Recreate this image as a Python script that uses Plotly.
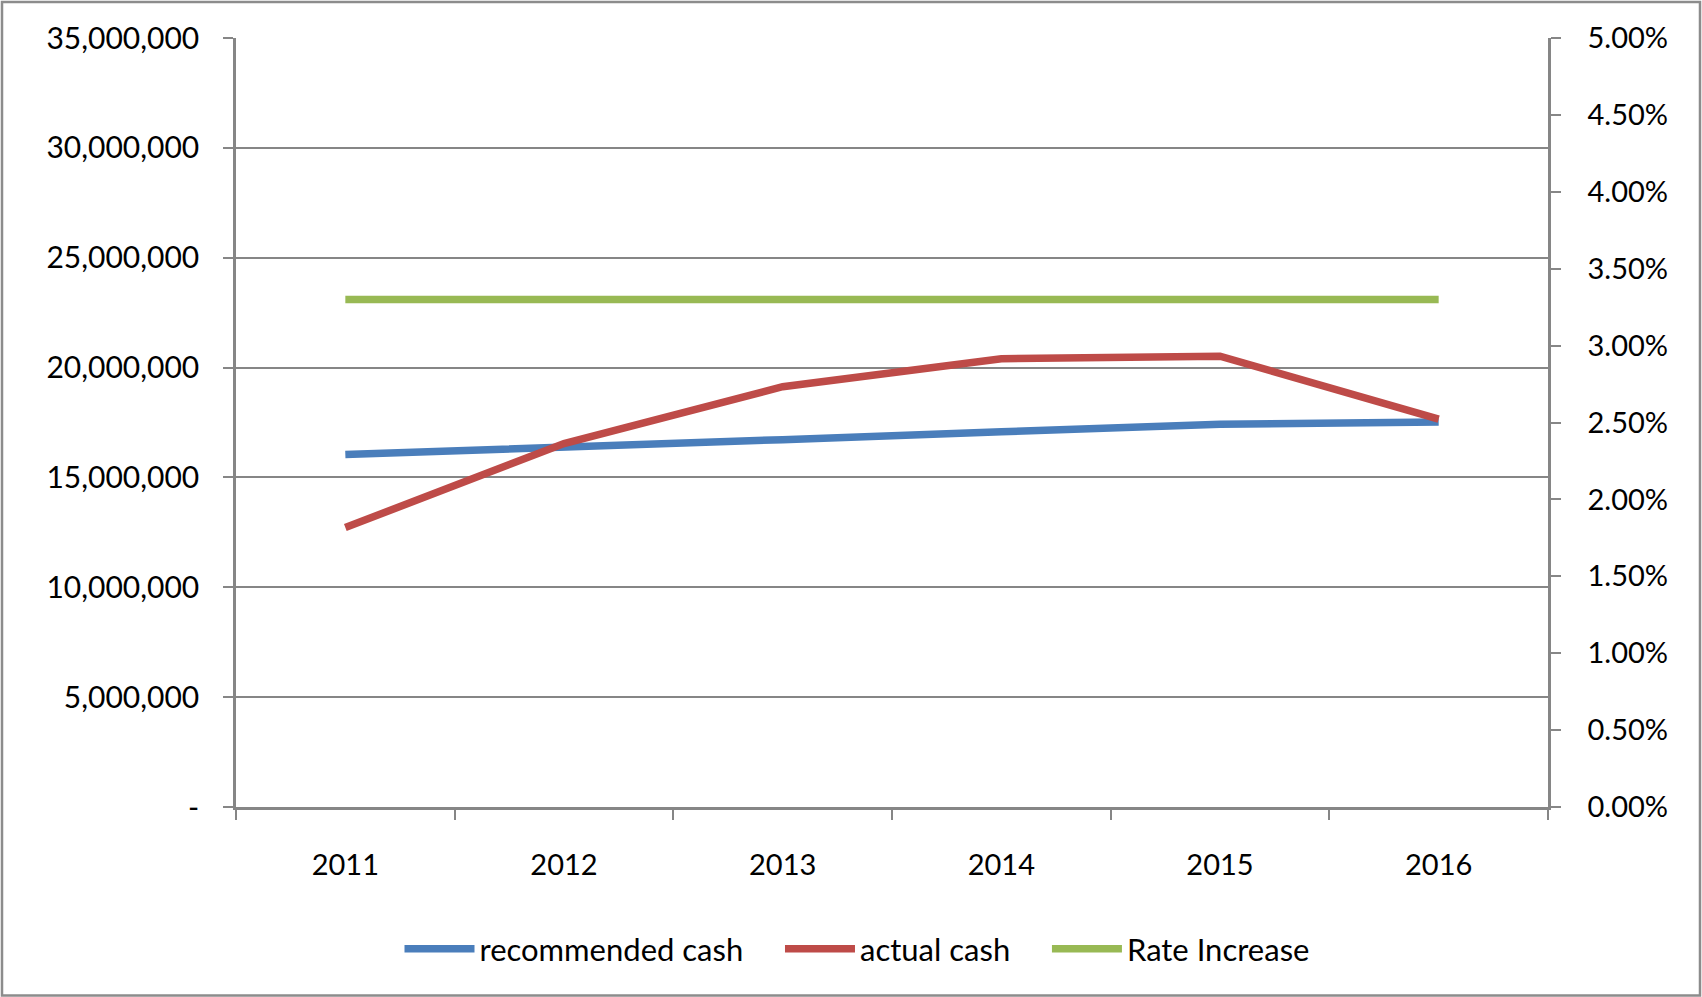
import plotly.graph_objects as go

years = ["2011", "2012", "2013", "2014", "2015", "2016"]
recommended_cash = [16040000, 16420000, 16720000, 17080000, 17420000, 17520000]
actual_cash = [12720000, 16540000, 19130000, 20400000, 20520000, 17650000]
rate_increase = [0.0330, 0.0330, 0.0330, 0.0330, 0.0330, 0.0330]
series_names = ["recommended cash", "actual cash", "Rate Increase"]

left_tickvals = [0, 5000000, 10000000, 15000000, 20000000, 25000000, 30000000, 35000000]
left_ticktext = ["-" if v == 0 else f"{v:,}" for v in left_tickvals]
right_tickvals = [0.0, 0.005, 0.01, 0.015, 0.02, 0.025, 0.03, 0.035, 0.04, 0.045, 0.05]

BLUE = "#4A7EBB"
RED = "#BE4B48"
GREEN = "#98B954"
GRID = "#868686"
FONT = "Lato"
PAD = "\u00a0" * 4

fig = go.Figure()
fig.add_trace(go.Scatter(x=years, y=recommended_cash, name=series_names[0] + PAD,
                         mode="lines", line=dict(color=BLUE, width=7.5)))
fig.add_trace(go.Scatter(x=years, y=actual_cash, name=series_names[1] + PAD,
                         mode="lines", line=dict(color=RED, width=7.5)))
fig.add_trace(go.Scatter(x=years, y=rate_increase, name=series_names[2], yaxis="y2",
                         mode="lines", line=dict(color=GREEN, width=7.5)))

W, H = 1702, 997
L, R, T, B = 236, 154, 38, 190
pw, ph = W - L - R, H - T - B

def px_x(p):
    return (p - L) / pw

def px_y(p):
    return (H - B - p) / ph

fig.update_layout(
    width=W, height=H,
    margin=dict(l=L, r=R, t=T, b=B, pad=0),
    paper_bgcolor="white", plot_bgcolor="white",
    font=dict(family=FONT, size=29, color="black"),
    showlegend=True,
    legend=dict(orientation="h", x=px_x(857), xanchor="center",
                y=px_y(949), yanchor="middle",
                font=dict(family=FONT, size=31, color="black"),
                itemwidth=70, traceorder="normal", bgcolor="rgba(0,0,0,0)"),
    xaxis=dict(type="category", range=[-0.5, 5.5], showgrid=False,
               showline=True, linecolor=GRID, linewidth=2.5,
               ticks="outside", tickson="boundaries", ticklen=10,
               tickcolor=GRID, tickwidth=2, ticklabelstandoff=30,
               zeroline=False, fixedrange=True),
    yaxis=dict(range=[0, 35000000], tickvals=left_tickvals, ticktext=left_ticktext,
               showgrid=True, gridcolor=GRID, gridwidth=2.2,
               showline=True, linecolor=GRID, linewidth=2.5,
               ticks="outside", ticklen=10, tickcolor=GRID, tickwidth=2,
               ticklabelstandoff=18, zeroline=False,
               tickfont=dict(family=FONT, size=30, color="black")),
    yaxis2=dict(range=[0, 0.05], tickvals=right_tickvals, tickformat=".2%",
                overlaying="y", side="right", showgrid=False,
                showline=True, linecolor=GRID, linewidth=2.5,
                ticks="outside", ticklen=10, tickcolor=GRID, tickwidth=2,
                ticklabelstandoff=21, zeroline=False),
    shapes=[dict(type="rect", xref="paper", yref="paper",
                 x0=px_x(2), x1=px_x(1700), y0=px_y(995.5), y1=px_y(2),
                 line=dict(color="#8C8C8C", width=2.5), fillcolor="rgba(0,0,0,0)",
                 layer="below")],
)

fig.write_html("out.html")
